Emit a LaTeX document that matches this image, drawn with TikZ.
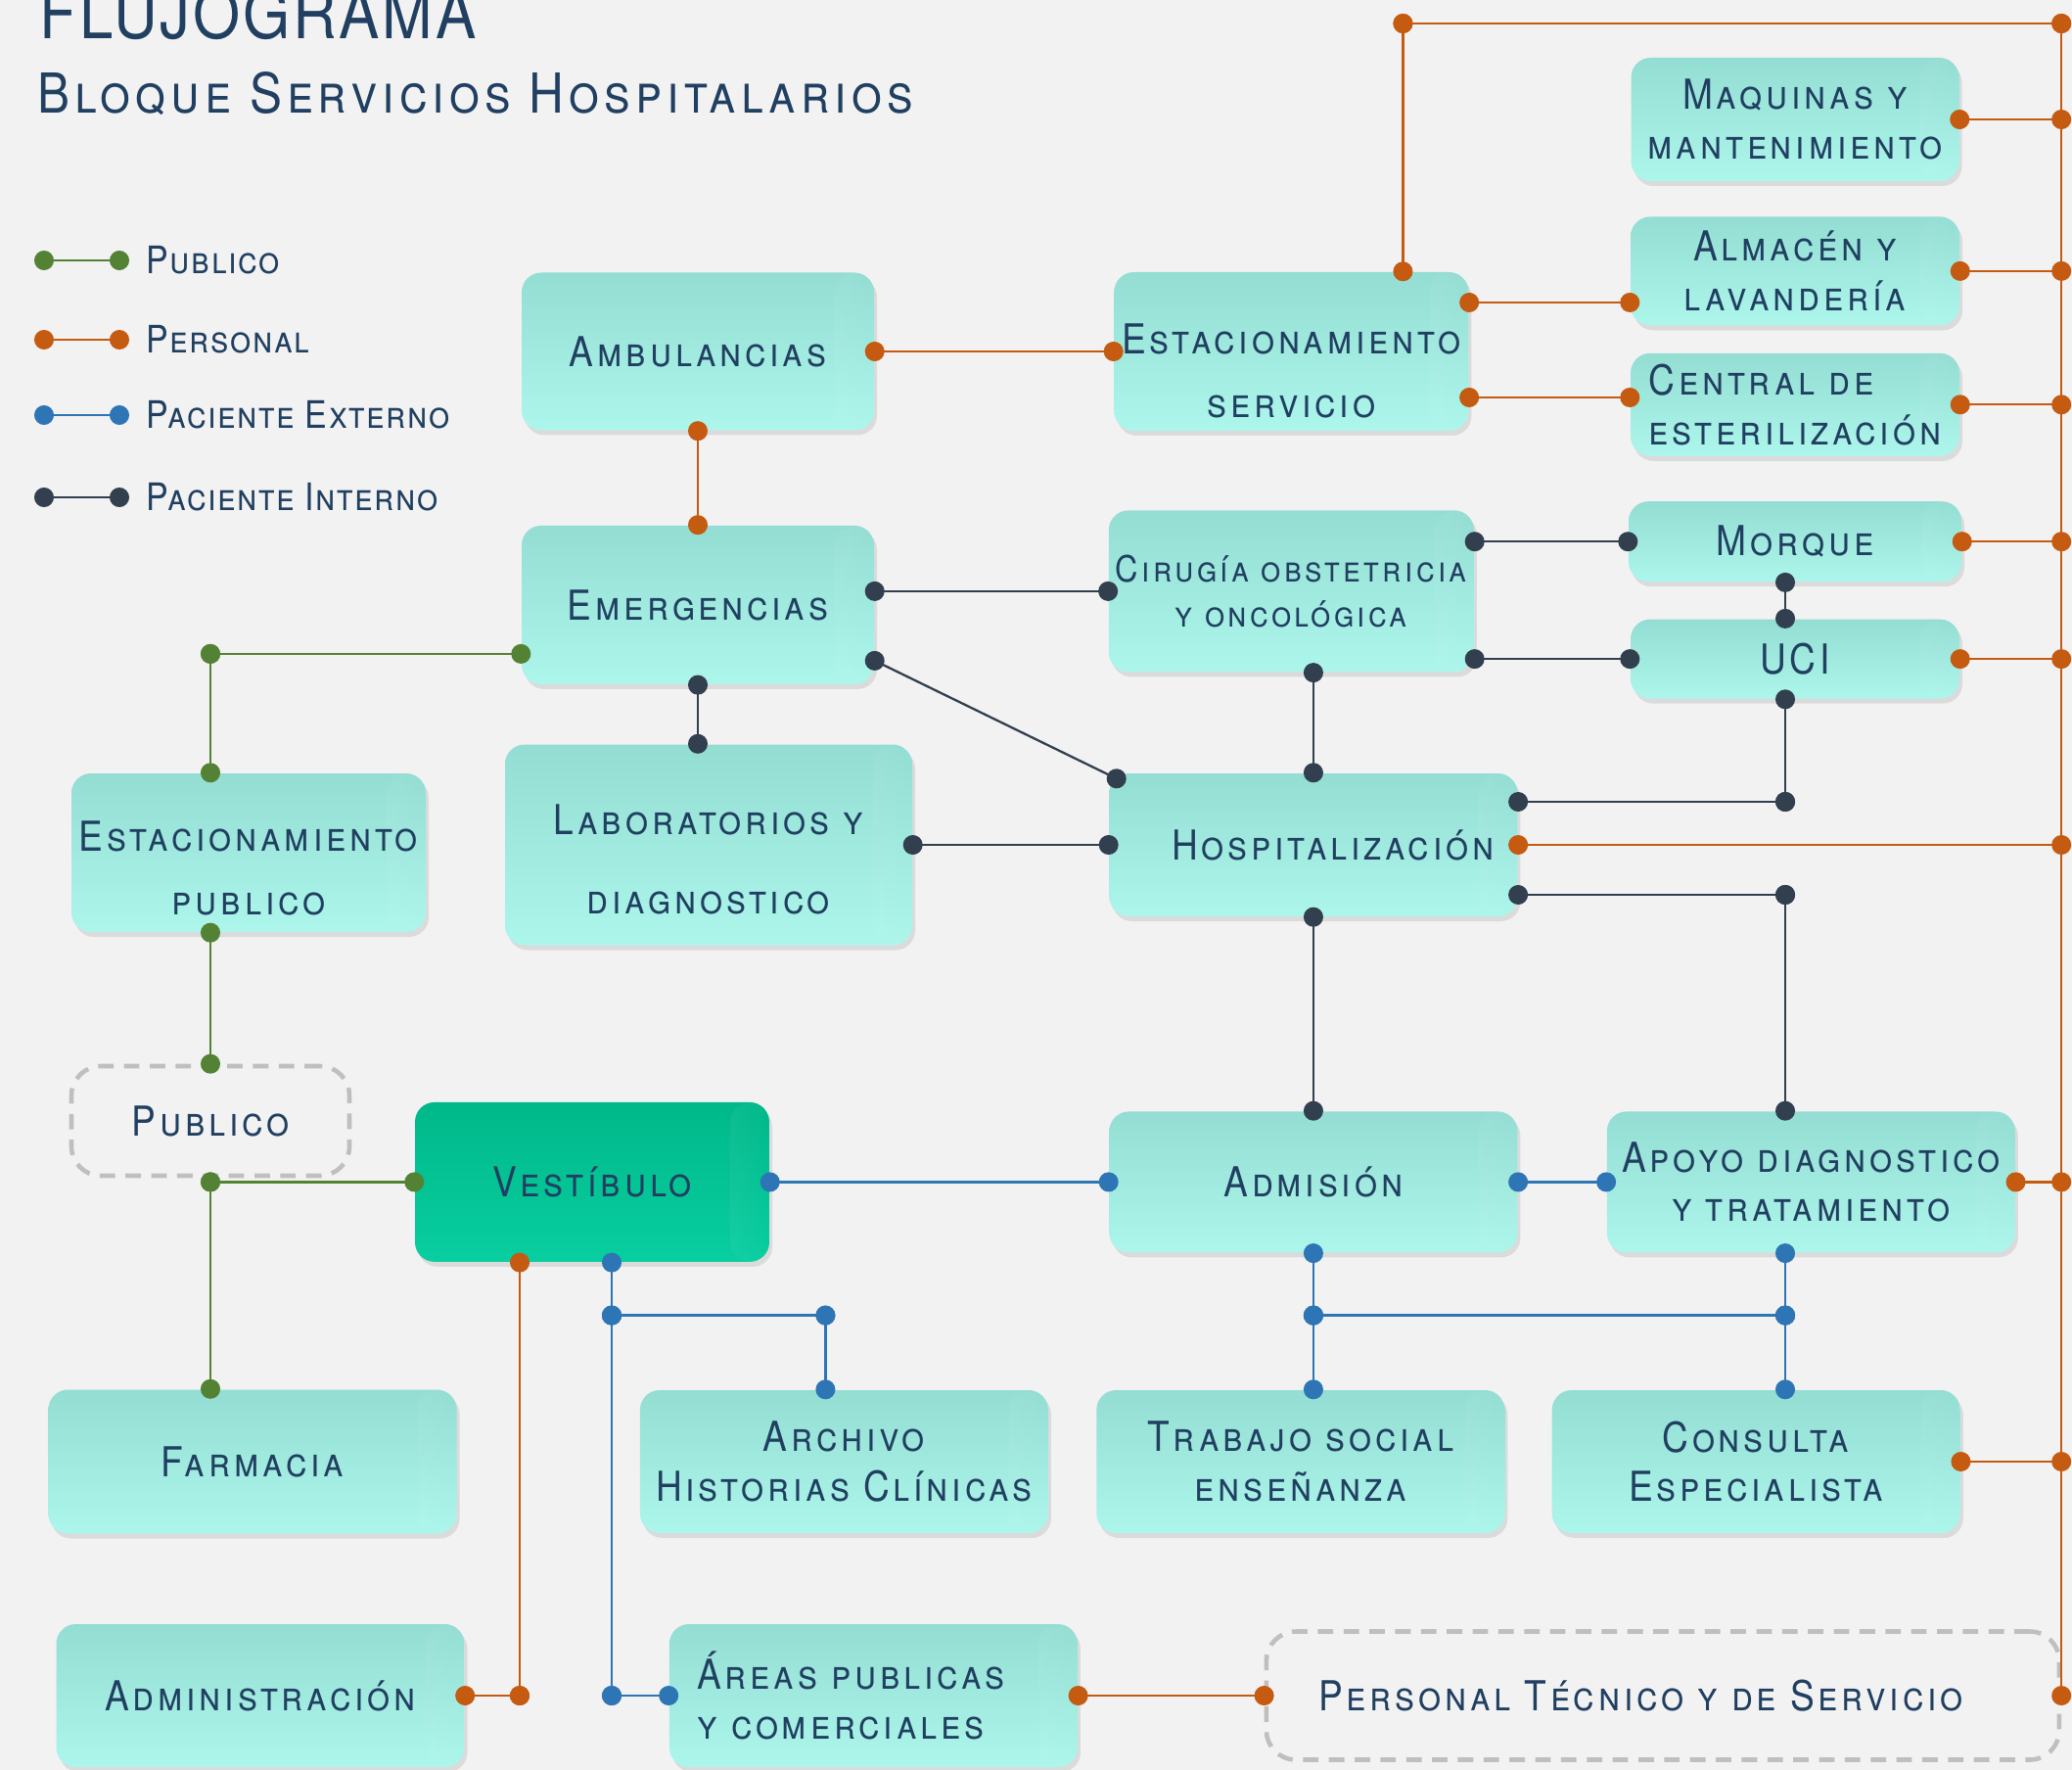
\documentclass[tikz,border=0pt]{standalone}
\usepackage{fontspec}
\setmainfont{TeX Gyre Heros}[FakeStretch=0.88, LetterSpace=9]
\usepackage{tikz}
\usetikzlibrary{positioning,arrows.meta,shadows,fadings}
\definecolor{colorbg}     {RGB}{242,242,242}
\definecolor{colortext}   {RGB}{33,64,97}
\definecolor{colorboxtop} {RGB}{148,221,211}
\definecolor{colorboxbot} {RGB}{172,246,236}
\definecolor{colorvesttop}{RGB}{0,184,138}
\definecolor{colorvestbot}{RGB}{8,206,160}
\definecolor{colorpub}    {RGB}{84,130,53}
\definecolor{colorpers}   {RGB}{197,90,17}
\definecolor{colorext}    {RGB}{46,117,182}
\definecolor{colorint}    {RGB}{50,63,79}
\definecolor{colordash}   {RGB}{191,191,191}

\begin{document}
\begin{tikzpicture}[
    text=colortext,
    font={\fontsize{12}{14.5}\selectfont\scshape},
    service/.style={rectangle,rounded corners=2mm,align=center,inner sep=2pt,
        top color=colorboxtop,bottom color=colorboxbot,
        drop shadow={shadow xshift=0.3mm,shadow yshift=-0.5mm,opacity=0.2},
        path picture={\fill[white,opacity=0.45,path fading=east]
            ([xshift=-4mm]path picture bounding box.north east) rectangle (path picture bounding box.south east);}},
    hall/.style={service,top color=colorvesttop,bottom color=colorvestbot},
    group/.style={rectangle,rounded corners=3mm,draw=colordash,line width=1.3pt,dash pattern=on 4.5pt off 3pt,align=center},
    flow/.style={line width=0.65pt,{Circle[length=2mm]}-{Circle[length=2mm]},shorten <=-1mm,shorten >=-1mm},
    pub/.style={flow,draw=colorpub},
    pers/.style={flow,draw=colorpers},
    ext/.style={flow,draw=colorext},
    int/.style={flow,draw=colorint},
    legend/.style={anchor=west,inner sep=0pt,font={\fontsize{11}{13}\selectfont\scshape\addfontfeatures{LetterSpace=4}}},
]
    \useasboundingbox (0,0) rectangle (21.17,-18.08);
    \fill[colorbg] (0,0) rectangle (21.17,-18.08);

    % Title
    \node[anchor=base west,inner sep=0pt,font={\fontsize{20}{24}\selectfont\addfontfeatures{LetterSpace=4}}] (title) at (0.40,-0.40) {FLUJOGRAMA};
    \node[anchor=base west,inner sep=0pt,font={\fontsize{16}{19}\selectfont\scshape}] (subtitle) at (0.38,-1.16) {Bloque Servicios Hospitalarios};

    % Legend
    \coordinate (pubA) at (0.45,-2.66);
    \coordinate (pubB) at (1.22,-2.66);
    \coordinate (persA) at (0.45,-3.47);
    \coordinate (persB) at (1.22,-3.47);
    \coordinate (extA) at (0.45,-4.24);
    \coordinate (extB) at (1.22,-4.24);
    \coordinate (intA) at (0.45,-5.08);
    \coordinate (intB) at (1.22,-5.08);
    \draw[pub] (pubA) -- (pubB);
    \draw[pers] (persA) -- (persB);
    \draw[ext] (extA) -- (extB);
    \draw[int] (intA) -- (intB);
    \node[legend,right=0.27cm of pubB] (pubtxt) {Publico};
    \node[legend,right=0.27cm of persB] (perstxt) {Personal};
    \node[legend,right=0.27cm of extB] (exttxt) {Paciente Externo};
    \node[legend,right=0.27cm of intB] (inttxt) {Paciente Interno};

    % Services
    \node[service,minimum width=3.60cm,minimum height=1.61cm] (ambul) at (7.13,-3.59) {Ambulancias};
    \node[service,minimum width=3.62cm,minimum height=1.62cm,right=2.44cm of ambul] (estserv) {\rule{0pt}{20pt}Estacionamiento\\[4pt]servicio};
    \node[service,minimum width=3.60cm,minimum height=1.62cm,below=0.96cm of ambul] (emerg) {Emergencias};
    \node[service,minimum width=3.63cm,minimum height=1.65cm,below=0.80cm of estserv,font={\fontsize{10.5}{13}\selectfont\scshape}] (cirug) {Cirugía obstetricia\\y oncológica};

    \node[service,minimum width=3.35cm,minimum height=1.26cm] (maquin) at (18.34,-1.22) {Maquinas y\\mantenimiento};
    \node[service,minimum width=3.36cm,minimum height=1.11cm,below=0.35cm of maquin] (almac) {Almacén y\\lavandería};
    \node[service,minimum width=3.36cm,minimum height=1.05cm,below=0.27cm of almac,align=left] (central) {Central de\\esterilización};
    \node[service,minimum width=3.40cm,minimum height=0.82cm,below=0.45cm of central] (morque) {Morque};
    \node[service,minimum width=3.36cm,minimum height=0.81cm,below=0.37cm of morque] (uci) {UCI};

    \node[service,minimum width=4.16cm,minimum height=2.05cm] (labs) at (7.24,-8.63) {\rule{0pt}{17pt}Laboratorios y\\[8.5pt]diagnostico};
    \node[service,minimum width=4.17cm,minimum height=1.46cm,right=2.0cm of labs] (hosp) {\hspace*{0.4cm}Hospitalización};
    \node[service,minimum width=3.62cm,minimum height=1.62cm] (estpub) at (2.54,-8.71) {\rule{0pt}{18pt}Estacionamiento\\[4pt]publico};
    \node[group,minimum width=2.84cm,minimum height=1.12cm] (public) at (2.15,-11.45) {Publico};

    \node[service,minimum width=4.17cm,minimum height=1.44cm,below=1.98cm of hosp] (admis) {Admisión};
    \node[service,minimum width=4.17cm,minimum height=1.44cm,right=0.90cm of admis] (apoyo) {Apoyo diagnostico\\y tratamiento};
    \node[hall,minimum width=3.62cm,minimum height=1.63cm,left=3.46cm of admis] (vestib) {Vestíbulo};

    \node[service,minimum width=4.17cm,minimum height=1.47cm] (farma) at (2.58,-14.93) {Farmacia};
    \node[service,minimum width=4.17cm,minimum height=1.46cm,right=1.86cm of farma] (archiv) {Archivo\\Historias Clínicas};
    \node[service,minimum width=4.17cm,minimum height=1.46cm,right=0.48cm of archiv] (trabaj) {Trabajo social\\enseñanza};
    \node[service,minimum width=4.17cm,minimum height=1.46cm,right=0.47cm of trabaj] (consul) {Consulta\\Especialista};

    \node[service,minimum width=4.17cm,minimum height=1.46cm] (admin) at (2.66,-17.32) {Administración};
    \node[service,minimum width=4.17cm,minimum height=1.46cm,right=2.08cm of admin,text width=3.6cm,align=left] (areas) {Áreas publicas\\y comerciales};
    \node[group,minimum width=8.10cm,minimum height=1.31cm,right=1.90cm of areas] (person) {Personal Técnico y de Servicio\hspace*{0.45cm}};

    % Helper points
    \coordinate (bustop) at ([yshift=17.08cm]person.east);
    \coordinate (srvtop) at ([xshift=1.14cm]estserv.north);
    \coordinate (srvup) at ([yshift=0.50cm]estserv.east);
    \coordinate (srvdn) at ([yshift=-0.47cm]estserv.east);
    \coordinate (icol) at ([xshift=-0.10cm]uci.south);
    \coordinate (hospup) at ([yshift=0.44cm]hosp.east);
    \coordinate (hospdn) at ([yshift=-0.51cm]hosp.east);
    \coordinate (emgpub) at ([yshift=-0.50cm]emerg.west);
    \coordinate (emgdiag) at ([yshift=-0.57cm]emerg.east);
    \coordinate (hospdiag) at ([xshift=0.08cm,yshift=-0.06cm]hosp.north west);
    \coordinate (vpers) at ([xshift=-0.74cm]vestib.south);
    \coordinate (vext) at ([xshift=0.20cm]vestib.south);
    \coordinate (vjoin) at ([yshift=-0.54cm]vext);
    \coordinate (arcup) at ([xshift=-0.19cm]archiv.north);
    \coordinate (ajoin) at (admis.south |- vjoin);

    % Personal
    \draw[pers] (ambul.east) -- (estserv.west);
    \draw[pers] (ambul.south) -- (emerg.north);
    \draw[pers] (srvtop) -- (srvtop |- bustop);
    \draw[pers] (srvtop |- bustop) -- (bustop);
    \draw[pers] (bustop) -- (person.east);
    \draw[pers] (srvup) -- (srvup -| almac.west);
    \draw[pers] (srvdn) -- (srvdn -| central.west);
    \draw[pers] (maquin.east) -- (maquin.east -| bustop);
    \draw[pers] (almac.east) -- (almac.east -| bustop);
    \draw[pers] (central.east) -- (central.east -| bustop);
    \draw[pers] (morque.east) -- (morque.east -| bustop);
    \draw[pers] (uci.east) -- (uci.east -| bustop);
    \draw[pers] (hosp.east) -- (hosp.east -| bustop);
    \draw[pers] (apoyo.east) -- (apoyo.east -| bustop);
    \draw[pers] (consul.east) -- (consul.east -| bustop);
    \draw[pers] (areas.east) -- (person.west);
    \draw[pers] (vpers) -- (vpers |- admin.east);
    \draw[pers] (admin.east) -- (vpers |- admin.east);

    % Publico
    \draw[pub] (emgpub) -- (emgpub -| public.north);
    \draw[pub] (emgpub -| public.north) -- (public.north |- estpub.north);
    \draw[pub] (public.north |- estpub.south) -- (public.north);
    \draw[pub] (public.south |- vestib.west) -- (vestib.west);
    \draw[pub] (public.south |- vestib.west) -- (public.south |- farma.north);

    % Paciente externo
    \draw[ext] (vestib.east) -- (admis.west);
    \draw[ext] (admis.east) -- (apoyo.west);
    \draw[ext] (vext) -- (vjoin);
    \draw[ext] (vjoin) -- (vjoin -| arcup);
    \draw[ext] (vjoin -| arcup) -- (arcup);
    \draw[ext] (vjoin) -- (vjoin |- areas.west);
    \draw[ext] (vjoin |- areas.west) -- (areas.west);
    \draw[ext] (admis.south) -- (ajoin);
    \draw[ext] (ajoin) -- (ajoin -| icol);
    \draw[ext] (ajoin -| icol) -- (icol |- apoyo.south);
    \draw[ext] (ajoin) -- (ajoin |- trabaj.north);
    \draw[ext] (ajoin -| icol) -- (icol |- consul.north);

    % Paciente interno
    \draw[int] (emerg.east |- cirug.west) -- (cirug.west);
    \draw[int] (emgdiag) -- (hospdiag);
    \draw[int] (emerg.south) -- (emerg.south |- labs.north);
    \draw[int] (labs.east) -- (hosp.west);
    \draw[int] (cirug.east |- morque.west) -- (morque.west);
    \draw[int] (cirug.east |- uci.west) -- (uci.west);
    \draw[int] (icol |- morque.south) -- (icol |- uci.north);
    \draw[int] (hosp.north |- cirug.south) -- (hosp.north);
    \draw[int] (icol) -- (icol |- hospup);
    \draw[int] (hospup) -- (icol |- hospup);
    \draw[int] (hospdn) -- (icol |- hospdn);
    \draw[int] (icol |- hospdn) -- (icol |- apoyo.north);
    \draw[int] (hosp.south) -- (admis.north);

\end{tikzpicture}
\end{document}
